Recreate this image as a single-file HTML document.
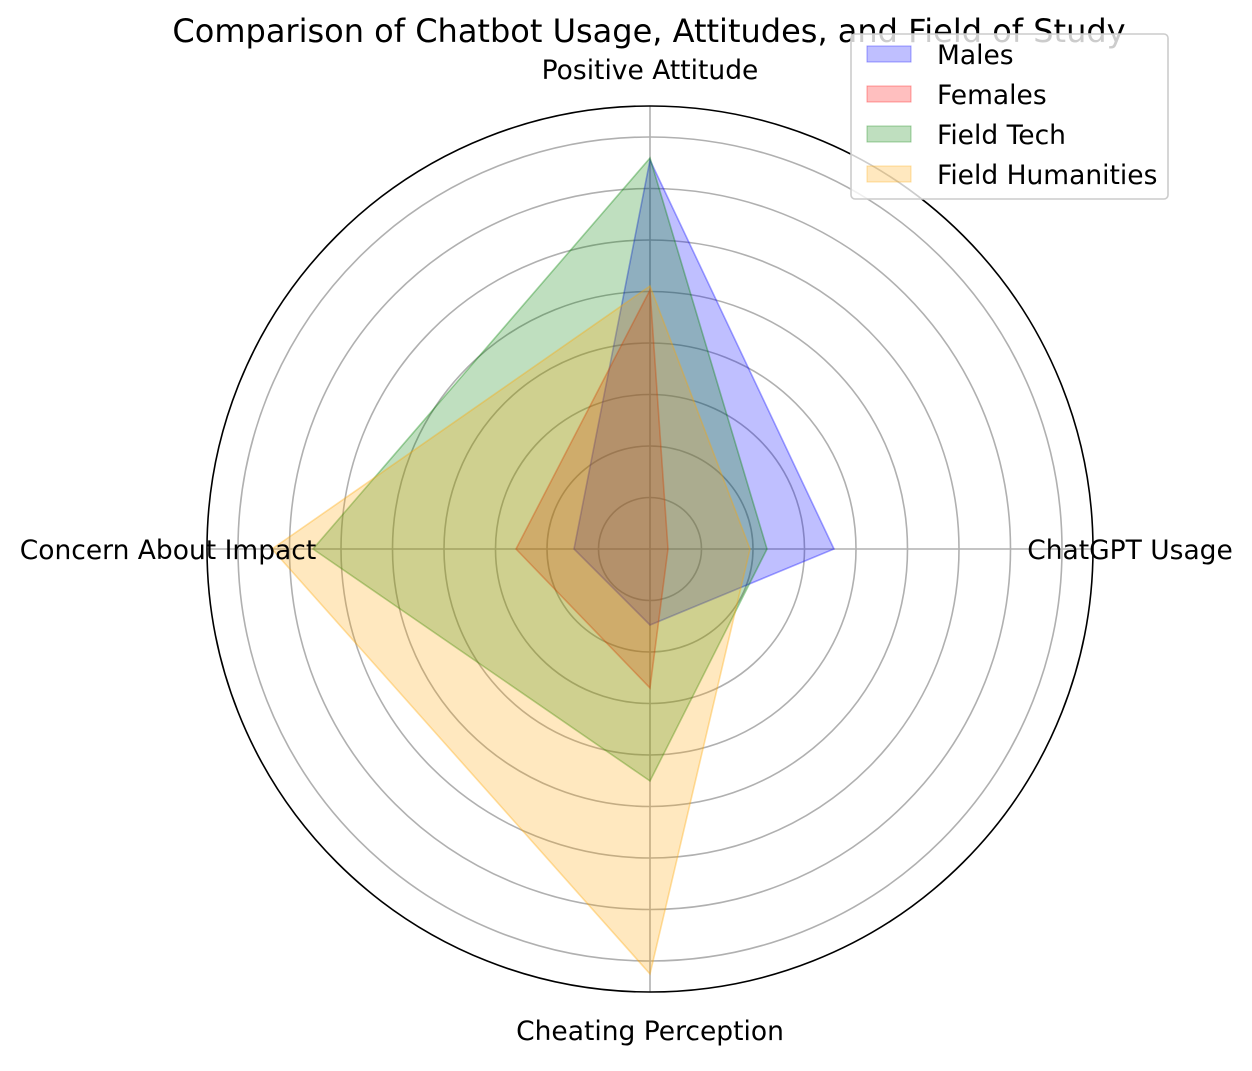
<!DOCTYPE html>
<html><head><meta charset="utf-8"><style>
html,body{margin:0;padding:0;background:#fff;}
text{font-family:"DejaVu Sans","Liberation Sans",sans-serif;}
</style></head><body>
<svg width="1252" height="1066" viewBox="0 0 1252 1066" xmlns="http://www.w3.org/2000/svg">
<rect width="1252" height="1066" fill="#fff"/>
<g fill="none" stroke="#b0b0b0" stroke-width="1.6">
<circle cx="650" cy="549" r="51.5"/><circle cx="650" cy="549" r="103"/>
<circle cx="650" cy="549" r="154.5"/><circle cx="650" cy="549" r="206"/>
<circle cx="650" cy="549" r="257.5"/><circle cx="650" cy="549" r="309"/>
<circle cx="650" cy="549" r="360.5"/><circle cx="650" cy="549" r="412"/>
<line x1="650" y1="549" x2="650" y2="106"/><line x1="650" y1="549" x2="1093" y2="549"/>
<line x1="650" y1="549" x2="650" y2="992"/><line x1="650" y1="549" x2="207" y2="549"/>
</g>
<polygon points="650,160 834,549 650,625 574,549" fill="rgba(0,0,255,0.25)" stroke="rgba(0,0,255,0.35)" stroke-width="1.6"/>
<polygon points="650,290 668,549 650,688 516,549" fill="rgba(255,0,0,0.25)" stroke="rgba(255,0,0,0.35)" stroke-width="1.6"/>
<polygon points="650,158 767,549 650,781 313,549" fill="rgba(0,128,0,0.25)" stroke="rgba(0,128,0,0.35)" stroke-width="1.6"/>
<polygon points="650,286 750,549 650,974 272,549" fill="rgba(255,165,0,0.25)" stroke="rgba(255,165,0,0.35)" stroke-width="1.6"/>
<circle cx="650" cy="549" r="443" fill="none" stroke="#000" stroke-width="1.6"/>
<text x="650" y="79" font-size="26.5" text-anchor="middle">Positive Attitude</text>
<text x="1130" y="559" font-size="26.5" text-anchor="middle">ChatGPT Usage</text>
<text x="650" y="1040" font-size="26.5" text-anchor="middle">Cheating Perception</text>
<text x="168" y="559" font-size="26.5" text-anchor="middle">Concern About Impact</text>
<text x="649" y="42" font-size="32" text-anchor="middle">Comparison of Chatbot Usage, Attitudes, and Field of Study</text>
<rect x="851" y="34" width="317" height="165" rx="4" fill="rgba(255,255,255,0.8)" stroke="#ccc" stroke-width="1.6"/>
<rect x="867" y="46" width="44" height="16" fill="rgba(0,0,255,0.25)" stroke="rgba(0,0,255,0.35)"/>
<rect x="867" y="86" width="44" height="16" fill="rgba(255,0,0,0.25)" stroke="rgba(255,0,0,0.35)"/>
<rect x="867" y="126" width="44" height="16" fill="rgba(0,128,0,0.25)" stroke="rgba(0,128,0,0.35)"/>
<rect x="867" y="166" width="44" height="16" fill="rgba(255,165,0,0.25)" stroke="rgba(255,165,0,0.35)"/>
<text x="937" y="64" font-size="26.5">Males</text>
<text x="937" y="104" font-size="26.5">Females</text>
<text x="937" y="144" font-size="26.5">Field Tech</text>
<text x="937" y="184" font-size="26.5">Field Humanities</text>
</svg>
</body></html>
